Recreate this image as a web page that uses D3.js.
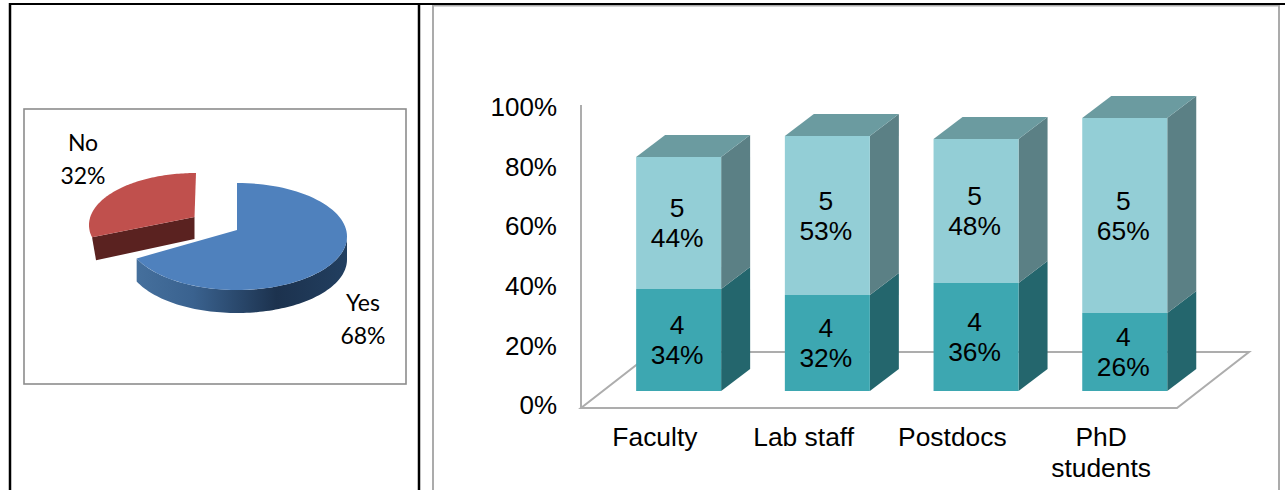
<!DOCTYPE html>
<html>
<head>
<meta charset="utf-8">
<script src="https://cdn.jsdelivr.net/npm/d3@7"></script>
<style>
  html, body { margin: 0; padding: 0; background: #fff; }
  svg { display: block; }
</style>
</head>
<body>
<svg id="chart" width="1285" height="490"></svg>
<script>
// Survey answers
const pieLabels = ["Yes", "No"];
const pieValues = [68, 32];

// Stacked responses per staff group
const categories = ["Faculty", "Lab staff", "Postdocs", "PhD students"];
const stackKeys = ["4", "5"];
const values4 = [34, 32, 36, 26];
const values5 = [44, 53, 48, 65];
const axisTicks = [0, 20, 40, 60, 80, 100];

const svg = d3.select("#chart");
const sans = "'Liberation Sans', Arial, sans-serif";
const humanist = "Lato, 'Open Sans', sans-serif";

// Table rules around the two cells
const rules = svg.append("g");
function rule(x1, y1, x2, y2, color, w) {
  rules.append("line").attr("x1", x1).attr("y1", y1).attr("x2", x2).attr("y2", y2)
    .attr("stroke", color).attr("stroke-width", w);
}
rule(433, 5.5, 1279, 5.5, "#ababab", 2);
rule(433, 5, 433, 490, "#ababab", 2);
rule(1279, 5, 1279, 490, "#ababab", 2);
rule(9, 4, 1285, 4, "#000", 2);
rule(10, 3, 10, 490, "#000", 2.5);
rule(419, 3, 419, 490, "#000", 2.5);

// ---------- Exploded 3D pie ----------
svg.append("rect").attr("x", 24).attr("y", 109).attr("width", 382).attr("height", 275)
  .attr("fill", "#fff").attr("stroke", "#8c8c8c").attr("stroke-width", 1.6);

const slices = d3.pie().sort(null)(pieValues);
const pieDepth = 23;
const deg = Math.PI / 180;

// The tilted view puts each slice's apex above its rim's centre, and bends the rim
// angle a little near the lower cut (startBend / endBend, applied at the slice ends).
const sliceShape = [
  { ax: 237, ay: 230, cx: 237, cy: 236.5, rx: 110, ry: 53.5, startBend: 0, endBend: 1 * deg, face: "#4f81bd" },
  { ax: 194.5, ay: 217, cx: 196, cy: 225, rx: 107, ry: 52, startBend: 11.5 * deg, endBend: 0, face: "#c0504d" }
];
function rimPoint(s, slice, a, drop) {
  const t = (a - slice.startAngle) / (slice.endAngle - slice.startAngle);
  const phi = a + s.startBend * (1 - t) + s.endBend * t;
  return [s.cx + s.rx * Math.sin(phi), s.cy - s.ry * Math.cos(phi) + (drop || 0)];
}
function rimSamples(s, slice, a0, a1, drop) {
  const n = 90;
  return d3.range(n + 1).map(i => rimPoint(s, slice, a0 + (a1 - a0) * i / n, drop));
}
const pathOf = d3.line();

const defs = svg.append("defs");
const sideGrad = defs.append("linearGradient").attr("id", "yesSide")
  .attr("gradientUnits", "userSpaceOnUse").attr("x1", 127).attr("x2", 347).attr("y1", 0).attr("y2", 0);
[[0, "#47729f"], [0.3, "#3a628f"], [0.68, "#1c324e"], [1, "#223f60"]].forEach(([o, c]) =>
  sideGrad.append("stop").attr("offset", o).attr("stop-color", c));

// Blue slice: visible outer wall, then the top face
const yes = slices[0], yesShape = sliceShape[0];
const wallStart = Math.PI / 2;
svg.append("path")
  .attr("d", pathOf(rimSamples(yesShape, yes, wallStart, yes.endAngle, 0)
    .concat(rimSamples(yesShape, yes, yes.endAngle, wallStart, pieDepth))) + "Z")
  .attr("fill", "url(#yesSide)");
svg.append("path")
  .attr("d", pathOf([[yesShape.ax, yesShape.ay]].concat(rimSamples(yesShape, yes, yes.startAngle, yes.endAngle, 0))) + "Z")
  .attr("fill", yesShape.face);

// Red slice: cut face below the top face
const no = slices[1], noShape = sliceShape[1];
const cutEdge = rimPoint(noShape, no, no.startAngle, 0);
svg.append("path")
  .attr("d", pathOf([cutEdge, [noShape.ax, noShape.ay], [noShape.ax, noShape.ay + pieDepth - 1], [cutEdge[0] + 4, cutEdge[1] + pieDepth]]) + "Z")
  .attr("fill", "#5a2220");
svg.append("path")
  .attr("d", pathOf([[noShape.ax, noShape.ay]].concat(rimSamples(noShape, no, no.startAngle, no.endAngle, 0))) + "Z")
  .attr("fill", noShape.face);

// Pie labels
const pieText = [
  { x: 83, y1: 142, y2: 175, i: 1 },
  { x: 363, y1: 302, y2: 335, i: 0 }
];
pieText.forEach(t => {
  [[pieLabels[t.i], t.y1], [pieValues[t.i] + "%", t.y2]].forEach(([s, y]) => {
    svg.append("text").text(s).attr("x", t.x).attr("y", y)
      .attr("text-anchor", "middle").attr("dominant-baseline", "central")
      .attr("font-family", humanist).attr("font-size", 23).attr("fill", "#000");
  });
});

// ---------- 3D stacked columns ----------
const floor = { left: 581, right: 1177, front: 408, dx: 72, dy: -56, wallTop: 105 };
const barDepth = { dx: 29, dy: -22 };

const yBar = d3.scaleLinear().domain([0, 100]).range([391, 91]);
const yLabel = d3.scaleLinear().domain([0, 100]).range([405.5, 107]);
const labelBand = d3.scaleBand().domain(categories)
  .range([floor.left - 1, floor.right - 2]).paddingInner(63.7 / 148.7).paddingOuter(31.85 / 148.7);
const xBar = labelBand.copy().range([604.3, 604.3 + 148.7 * 4]);

// Floor outline and the vertical wall edge
const frameColor = "#adadad";
svg.append("path")
  .attr("d", pathOf([
    [floor.left, floor.front], [floor.right, floor.front],
    [floor.right + floor.dx, floor.front + floor.dy],
    [floor.left + floor.dx, floor.front + floor.dy]]) + "Z")
  .attr("fill", "none").attr("stroke", frameColor).attr("stroke-width", 2);
svg.append("line").attr("x1", floor.left).attr("x2", floor.left)
  .attr("y1", floor.front + 1).attr("y2", floor.wallTop)
  .attr("stroke", frameColor).attr("stroke-width", 2);

// Percentage axis
const yAxis = d3.axisLeft(yLabel).tickValues(axisTicks).tickSize(0).tickPadding(0)
  .tickFormat(d => d + "%");
const axisG = svg.append("g").attr("transform", "translate(557,0)").call(yAxis);
axisG.select(".domain").remove();
axisG.selectAll("text").attr("font-family", sans).attr("font-size", 26).attr("fill", "#000");

// Column segments: front, right side, and a cap on the upper one
const palette = {
  "4": { front: "#3da7b1", side: "#24666d" },
  "5": { front: "#93ced6", side: "#5b8085" }
};
const stackInput = categories.map((c, i) => ({ category: c, "4": values4[i], "5": values5[i] }));
const layers = d3.stack().keys(stackKeys)(stackInput);
const w = xBar.bandwidth();

layers.forEach(layer => {
  const colors = palette[layer.key];
  layer.forEach(seg => {
    const c = seg.data.category;
    const x = xBar(c), yTop = yBar(seg[1]), yBase = yBar(seg[0]);
    svg.append("polygon")
      .attr("points", [[x + w, yBase], [x + w + barDepth.dx, yBase + barDepth.dy],
        [x + w + barDepth.dx, yTop + barDepth.dy], [x + w, yTop]].join(" "))
      .attr("fill", colors.side);
    svg.append("rect").attr("x", x).attr("y", yTop).attr("width", w).attr("height", yBase - yTop)
      .attr("fill", colors.front);
    if (layer.key === "5") {
      svg.append("polygon")
        .attr("points", [[x, yTop], [x + barDepth.dx, yTop + barDepth.dy],
          [x + w + barDepth.dx, yTop + barDepth.dy], [x + w, yTop]].join(" "))
        .attr("fill", "#6b9ba0");
    }
    const mid = (yTop + yBase) / 2;
    [[layer.key, mid - 15], [(seg[1] - seg[0]) + "%", mid + 15]].forEach(([s, y]) => {
      svg.append("text").text(s).attr("x", x + w / 2 - 1.5).attr("y", y)
        .attr("text-anchor", "middle").attr("dominant-baseline", "central")
        .attr("font-family", sans).attr("font-size", 26.4).attr("fill", "#000");
    });
  });
});

// Category names, wrapped at the space for the long one
categories.forEach(c => {
  const lines = c === "PhD students" ? c.split(" ") : [c];
  lines.forEach((s, i) => {
    svg.append("text").text(s)
      .attr("x", labelBand(c) + labelBand.bandwidth() / 2 + 0.5)
      .attr("y", 437 + i * 31)
      .attr("text-anchor", "middle").attr("dominant-baseline", "central")
      .attr("font-family", sans).attr("font-size", 26.4).attr("fill", "#000");
  });
});
</script>
</body>
</html>
